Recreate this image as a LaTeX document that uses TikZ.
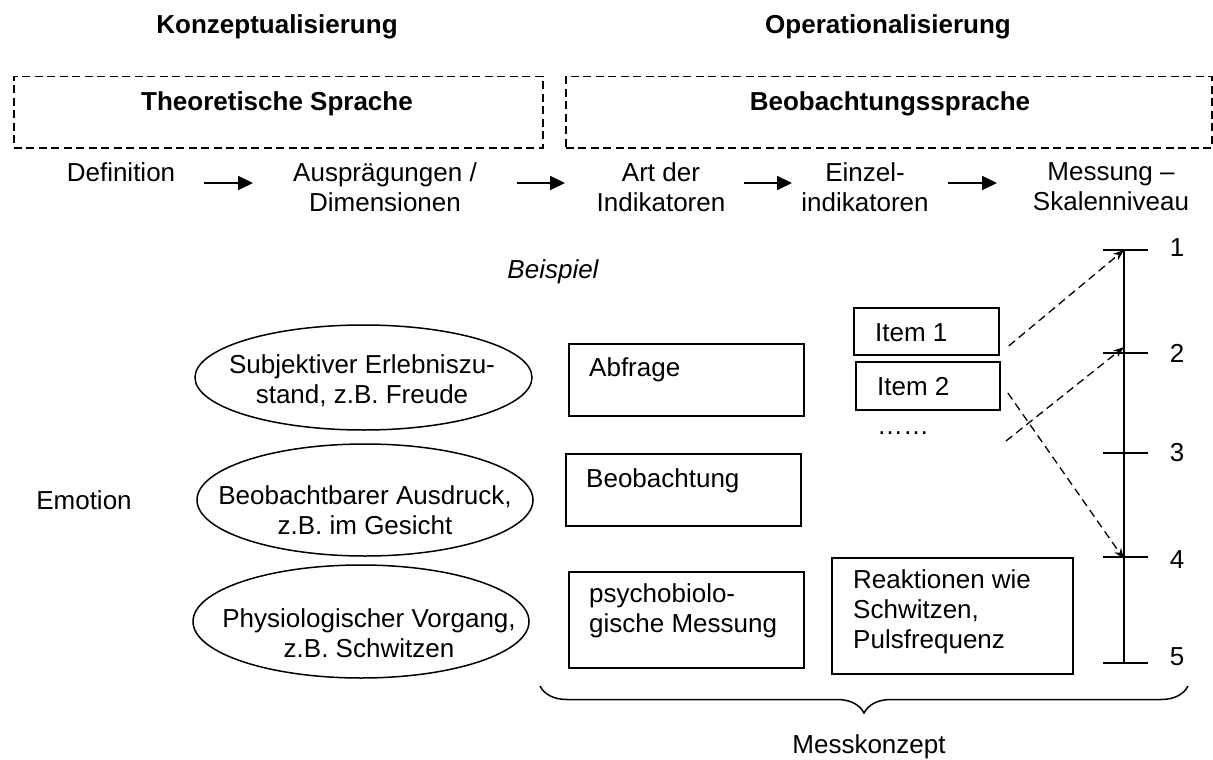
\documentclass[tikz,border=0pt]{standalone}
\usepackage{fontspec}
\setmainfont{Liberation Sans}
\usetikzlibrary{shapes.geometric,arrows.meta,decorations.pathreplacing}

\begin{document}
\begin{tikzpicture}[x=1pt,y=-1pt,
  txt/.style={inner sep=0pt, font=\fontsize{26}{30}\selectfont, align=center},
  ltxt/.style={inner sep=0pt, font=\fontsize{26}{30}\selectfont, align=left, anchor=west},
  head/.style={inner sep=0pt, font=\fontsize{26}{30}\selectfont\bfseries},
  langbox/.style={draw, line width=1.5pt, dash pattern=on 8pt off 4.5pt, inner sep=0pt, anchor=north west},
  solidbox/.style={draw, line width=1.8pt, inner sep=0pt, anchor=north west},
  oval/.style={draw, ellipse, line width=1.5pt, inner sep=0pt},
  flow/.style={line width=1.8pt, -{Triangle[length=15pt,width=14pt]}},
  link/.style={line width=1.3pt, dash pattern=on 8pt off 5pt, -{Stealth[length=11pt,width=8pt]}},
  axis/.style={line width=1.8pt}]

\useasboundingbox (0,0) rectangle (1213,760);

% column headings
\node[head] (konz) at (277,27) {Konzeptualisierung};
\node[head] (oper) at (888,27) {Operationalisierung};

% language frames
\node[langbox, minimum width=529pt, minimum height=71pt] (theo) at (13,76) {};
\node[head] (theoT) at (277,104) {Theoretische Sprache};
\node[langbox, minimum width=646pt, minimum height=71pt] (beob) at (565,76) {};
\node[head] (beobT) at (890,104) {Beobachtungssprache};

% steps of the process
\node[txt] (def)  at (121,172) {Definition};
\node[txt] (ausp) at (385,187) {Ausprägungen /\\Dimensionen};
\node[txt] (art)  at (661,187) {Art der\\Indikatoren};
\node[txt] (einz) at (865,187) {Einzel-\\indikatoren};
\node[txt] (mess) at (1111,187) {Messung –\\Skalenniveau};

\coordinate (f1a) at (204,183); \coordinate (f1b) at (253,183);
\coordinate (f2a) at (517,183); \coordinate (f2b) at (565,183);
\coordinate (f3a) at (744,183); \coordinate (f3b) at (792,183);
\coordinate (f4a) at (948,183); \coordinate (f4b) at (997,183);
\draw[flow] (f1a) -- (f1b);
\draw[flow] (f2a) -- (f2b);
\draw[flow] (f3a) -- (f3b);
\draw[flow] (f4a) -- (f4b);

% example
\node[font=\fontsize{26}{30}\selectfont\itshape, inner sep=0pt] (beisp) at (553,272) {Beispiel};
\node[txt] (emo) at (84,500) {Emotion};

% dimensions
\node[oval, minimum width=337pt, minimum height=105pt] (e1) at (363.5,377.5) {};
\node[txt] (e1t) at (362,381) {Subjektiver Erlebniszu-\\stand, z.B. Freude};
\node[oval, minimum width=336pt, minimum height=112pt] (e2) at (365,500) {};
\node[txt] (e2t) at (365,510) {Beobachtbarer Ausdruck,\\z.B. im Gesicht};
\node[oval, minimum width=336pt, minimum height=113pt] (e3) at (361,621.5) {};
\node[txt] (e3t) at (369,633) {Physiologischer Vorgang,\\z.B. Schwitzen};

% kinds of indicators
\node[solidbox, minimum width=235pt, minimum height=72pt] (abf) at (568,343) {};
\node[ltxt] (abft) at (589,370) {Abfrage};
\node[solidbox, minimum width=235pt, minimum height=72pt] (beo) at (565,453) {};
\node[ltxt] (beot) at (586,481) {Beobachtung};
\node[solidbox, minimum width=235pt, minimum height=96pt] (psy) at (568,571) {};
\node[ltxt] (psyt) at (589,611) {psychobiolo-\\gische Messung};

% single indicators
\node[solidbox, minimum width=145pt, minimum height=47pt] (it1) at (853,307) {};
\node[ltxt] (it1t) at (875,333) {Item 1};
\node[solidbox, minimum width=144pt, minimum height=48pt] (it2) at (855,361) {};
\node[ltxt] (it2t) at (877,387) {Item 2};
\node[txt] (dots) at (903,433) {……};
\node[solidbox, minimum width=241pt, minimum height=116pt] (reak) at (831,557) {};
\node[ltxt] (reakt) at (853,612) {Reaktionen wie\\Schwitzen,\\Pulsfrequenz};

% measurement scale
\coordinate (p1) at (1124,250);
\coordinate (p2) at (1124,353);
\coordinate (p3) at (1124,453);
\coordinate (p4) at (1124,557);
\coordinate (p5) at (1124,663);
\draw[axis] (p1) -- (p5);
\foreach \p in {p1,p2,p3,p4,p5}
  \draw[axis] ([xshift=-21pt]\p) -- ([xshift=24pt]\p);
\node[txt] (n1) at (1177,248) {1};
\node[txt] (n2) at (1177,353) {2};
\node[txt] (n3) at (1177,453) {3};
\node[txt] (n4) at (1177,560) {4};
\node[txt] (n5) at (1177,657) {5};

% assignment of items to scale values
\coordinate (dotsout) at (1006,441);
\draw[link] ([shift={(9,14.5)}]it1.east) -- (p1);
\draw[link] ([shift={(7,7)}]it2.east) -- ([yshift=-2pt]p4);
\draw[link] (dotsout) -- ([yshift=6pt]p2);

% measurement concept
\coordinate (bl) at (540,686);
\coordinate (br) at (1188,686);
\draw[decorate, decoration={brace, mirror, amplitude=27pt}, line width=1.5pt] (bl) -- (br);
\node[txt] (mk) at (869,747) {Messkonzept};

\end{tikzpicture}
\end{document}
